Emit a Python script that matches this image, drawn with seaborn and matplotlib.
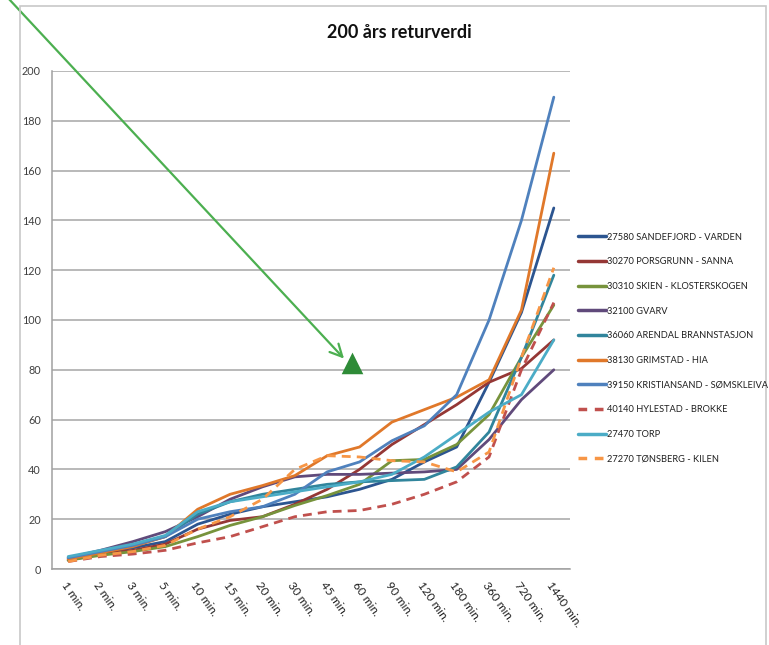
import matplotlib
matplotlib.use("Agg")
import matplotlib.pyplot as plt
import seaborn as sns
import pandas as pd
from matplotlib.lines import Line2D
from matplotlib.patches import Rectangle

sns.set_theme(style="white")
plt.rcParams["font.family"] = ["Lato", "DejaVu Sans"]

durations = ["1 min.", "2 min.", "3 min.", "5 min.", "10 min.", "15 min.", "20 min.",
             "30 min.", "45 min.", "60 min.", "90 min.", "120 min.", "180 min.",
             "360 min.", "720 min.", "1440 min."]

stations = ["27580 SANDEFJORD - VARDEN", "30270 PORSGRUNN - SANNA",
            "30310 SKIEN - KLOSTERSKOGEN", "32100 GVARV",
            "36060 ARENDAL BRANNSTASJON", "38130 GRIMSTAD - HIA",
            "39150 KRISTIANSAND - SØMSKLEIVA", "40140 HYLESTAD - BROKKE",
            "27470 TORP", "27270 TØNSBERG - KILEN"]

sandefjord   = [4.0, 6.5, 8.5, 11, 18, 22, 25, 27, 29, 32, 36, 43, 49, 75, 103, 145]
porsgrunn    = [3.5, 6.0, 7.5, 10, 16, 19.5, 21, 26, 32, 40, 50, 58, 66, 75, 80.5, 92]
skien        = [3.5, 5.5, 7.0, 9, 13, 17.5, 21, 25.5, 29.5, 34, 43.5, 44, 50, 62, 85, 106]
gvarv        = [4.5, 7.5, 11, 15, 21, 28, 33, 37, 38, 38, 38.5, 39, 40, 52, 68, 80]
arendal      = [4.5, 7.0, 9.5, 13, 22, 27, 30, 32, 34, 35, 35.5, 36, 41, 55, 85, 118]
grimstad     = [4.0, 6.5, 9.0, 13, 24, 30, 33.5, 37.5, 45.5, 49, 59, 64, 69, 76, 104, 167]
kristiansand = [4.5, 7.0, 9.5, 13, 20, 23, 25, 30, 39, 43, 51.5, 57.5, 70, 100, 140, 189.5]
hylestad     = [3.0, 5.0, 6.0, 7.5, 10.5, 13, 17, 21, 23, 23.5, 26, 30, 35, 45, 80, 107]
torp         = [5.0, 7.5, 10, 13.5, 23, 27, 29, 31, 33, 35, 38, 45, 54, 63, 70, 92]
tonsberg     = [3.0, 5.5, 7.0, 9.5, 16, 21, 28, 40, 45.5, 45, 43.5, 43, 39, 47, 85, 121]

series = [sandefjord, porsgrunn, skien, gvarv, arendal, grimstad,
          kristiansand, hylestad, torp, tonsberg]

colors = ["#2C5590", "#953735", "#77933C", "#604A7B", "#31859C", "#E0782A",
          "#4F81BD", "#C0504D", "#4BACC6", "#F79646"]
dashed = [False, False, False, False, False, False, False, True, False, True]

records = []
for name, vals in zip(stations, series):
    for i, v in enumerate(vals):
        records.append({"station": name, "pos": i, "value": v})
df = pd.DataFrame(records)

W, H = 769, 645
fig = plt.figure(figsize=(W / 100, H / 100), dpi=100)
ax = fig.add_axes([52 / W, 1 - 569 / H, (570 - 52) / W, (569 - 71) / H])

for name, col, dsh in zip(stations, colors, dashed):
    sub = df[df["station"] == name]
    sns.lineplot(data=sub, x="pos", y="value", ax=ax, color=col, linewidth=2.0,
                 linestyle=(0, (3.2, 2.2)) if dsh else "-", legend=False)

ax.set_xlim(-0.5, len(durations) - 0.5)
ax.set_ylim(0, 200)
ax.set_yticks(range(0, 201, 20))
ax.set_yticklabels([str(v) for v in range(0, 201, 20)], fontsize=7.8, color="#404040")
ax.set_xticks(range(len(durations)))
ax.set_xticklabels(durations, rotation=-55, ha="left", va="top",
                   rotation_mode="anchor", fontsize=8.5, color="#202020")
ax.set_xticks([i - 0.5 for i in range(len(durations) + 1)], minor=True)
ax.tick_params(axis="x", which="major", length=0, pad=8)
ax.tick_params(axis="x", which="minor", length=5, width=1, color="#A0A0A0",
               direction="out")
ax.tick_params(axis="y", length=4, width=1, color="#A0A0A0", pad=4)
ax.set_xlabel("")
ax.set_ylabel("")

ax.grid(axis="y", color="#A6A6A6", linewidth=1.1)
ax.set_axisbelow(True)
for side in ["top", "right"]:
    ax.spines[side].set_visible(False)
for side in ["left", "bottom"]:
    ax.spines[side].set_color("#A0A0A0")
    ax.spines[side].set_linewidth(1.1)

fig.text(399 / W, 1 - 32 / H, "200 års returverdi", ha="center", va="center",
         fontsize=13, fontweight="bold", color="#101010")

handles = [Line2D([0], [0], color=c, linewidth=2.5,
                  linestyle=(0, (2.5, 2.2)) if d else "-")
           for c, d in zip(colors, dashed)]
leg = fig.legend(handles, stations, loc="upper left",
                 bbox_to_anchor=(574 / W, 1 - 229 / H), frameon=False,
                 fontsize=6.7, handlelength=3.0, handletextpad=0.15,
                 labelspacing=1.68, borderaxespad=0)
for t in leg.get_texts():
    t.set_color("#202020")

# frame around the chart
fig.add_artist(Rectangle((20 / W, -0.05), (766 - 20) / W, 1.05 - 6 / H,
                         transform=fig.transFigure, fill=False,
                         edgecolor="#C8C8C8", linewidth=1.2))

# green pointer drawn over the chart
ax.annotate("", xy=(8.52, 84.5), xycoords="data",
            xytext=(8, H + 2), textcoords="figure pixels",
            arrowprops=dict(arrowstyle="->", color="#4CAF50", lw=1.6,
                            mutation_scale=22, shrinkA=0, shrinkB=0),
            annotation_clip=False)
ax.plot([8.77], [82.2], marker="^", markersize=11.5, color="#2E8B37",
        markeredgecolor="#2E8B37", markeredgewidth=2.5, linestyle="none",
        clip_on=False)

fig.savefig("out.png", dpi=100)
